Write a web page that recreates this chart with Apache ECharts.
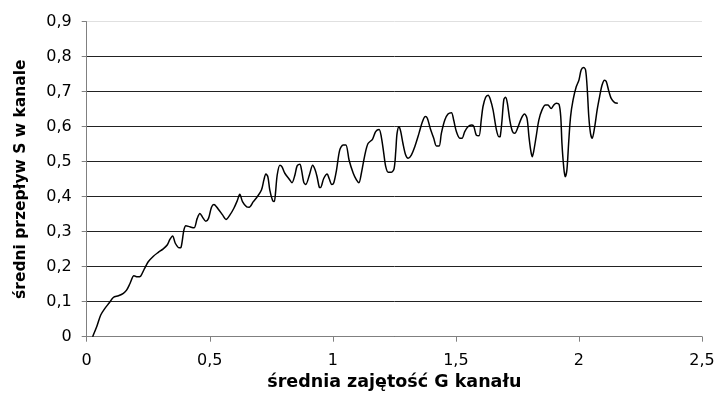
<!DOCTYPE html>
<html>
<head>
<meta charset="utf-8">
<script src="https://cdn.jsdelivr.net/npm/echarts@6/dist/echarts.min.js"></script>
<style>html,body{margin:0;padding:0;background:#fff}#c{width:719px;height:404px}</style>
</head>
<body>
<div id="c"></div>
<script>
var xValues = [0.024,0.041,0.057,0.074,0.092,0.108,0.129,0.149,0.162,0.176,0.192,0.206,0.219,0.233,0.250,0.271,0.291,0.311,0.327,0.338,0.349,0.360,0.376,0.383,0.395,0.403,0.419,0.436,0.449,0.460,0.471,0.484,0.495,0.507,0.517,0.534,0.552,0.566,0.582,0.598,0.612,0.622,0.633,0.650,0.660,0.677,0.693,0.710,0.720,0.728,0.736,0.744,0.755,0.762,0.767,0.774,0.785,0.793,0.805,0.823,0.834,0.846,0.855,0.866,0.873,0.882,0.890,0.906,0.918,0.928,0.936,0.945,0.950,0.963,0.977,0.985,0.996,1.004,1.015,1.028,1.042,1.053,1.066,1.083,1.096,1.106,1.116,1.130,1.143,1.161,1.174,1.188,1.197,1.207,1.215,1.225,1.238,1.249,1.256,1.261,1.269,1.276,1.285,1.296,1.306,1.319,1.333,1.350,1.364,1.376,1.384,1.396,1.410,1.421,1.432,1.441,1.455,1.468,1.482,1.491,1.502,1.516,1.525,1.536,1.549,1.563,1.572,1.583,1.594,1.603,1.610,1.621,1.631,1.640,1.651,1.665,1.675,1.680,1.687,1.695,1.702,1.709,1.719,1.730,1.739,1.752,1.766,1.779,1.789,1.797,1.804,1.810,1.816,1.826,1.837,1.850,1.864,1.874,1.887,1.898,1.908,1.919,1.926,1.931,1.938,1.944,1.951,1.958,1.966,1.976,1.989,2.000,2.009,2.019,2.027,2.034,2.040,2.047,2.054,2.063,2.074,2.084,2.094,2.104,2.111,2.122,2.131,2.145,2.158];
var yValues = [0,0.029,0.062,0.081,0.097,0.112,0.117,0.124,0.133,0.152,0.174,0.171,0.173,0.192,0.214,0.230,0.241,0.251,0.262,0.278,0.288,0.267,0.254,0.255,0.305,0.317,0.314,0.311,0.338,0.352,0.341,0.330,0.338,0.370,0.378,0.365,0.348,0.335,0.348,0.367,0.389,0.407,0.386,0.371,0.370,0.386,0.400,0.419,0.448,0.465,0.457,0.419,0.390,0.386,0.410,0.462,0.490,0.486,0.467,0.450,0.440,0.462,0.488,0.493,0.476,0.441,0.435,0.465,0.490,0.477,0.457,0.427,0.426,0.452,0.465,0.452,0.435,0.440,0.476,0.533,0.548,0.548,0.505,0.467,0.448,0.440,0.467,0.519,0.552,0.564,0.586,0.592,0.571,0.524,0.486,0.470,0.470,0.480,0.533,0.581,0.600,0.586,0.552,0.519,0.510,0.519,0.543,0.581,0.614,0.629,0.624,0.595,0.567,0.545,0.545,0.581,0.619,0.636,0.640,0.619,0.586,0.567,0.567,0.586,0.600,0.605,0.602,0.576,0.574,0.619,0.657,0.684,0.690,0.678,0.648,0.590,0.571,0.572,0.615,0.678,0.684,0.668,0.619,0.586,0.581,0.598,0.624,0.636,0.624,0.571,0.533,0.514,0.529,0.571,0.619,0.648,0.662,0.662,0.652,0.662,0.667,0.664,0.629,0.552,0.486,0.457,0.476,0.552,0.629,0.676,0.714,0.733,0.762,0.769,0.762,0.705,0.629,0.581,0.567,0.595,0.648,0.686,0.719,0.733,0.729,0.700,0.681,0.669,0.667];
var xTicks = [0, 0.5, 1, 1.5, 2, 2.5];
var yTicks = [0, 0.1, 0.2, 0.3, 0.4, 0.5, 0.6, 0.7, 0.8, 0.9];
var xTitle = 'średnia zajętość G kanału';
var yTitle = 'średni przepływ S w kanale';

var pts = xValues.map(function (x, i) { return [x, yValues[i]]; });
function fmt(v) { return String(+v.toFixed(1)).replace('.', ','); }
var font = 'DejaVu Sans, Liberation Sans, Arial, sans-serif';
var chart = echarts.init(document.getElementById('c'), null, { renderer: 'canvas' });
chart.setOption({
  animation: false,
  backgroundColor: '#fff',
  grid: { left: 86.7, right: 17, top: 21.7, bottom: 67.3, containLabel: false },
  xAxis: {
    type: 'value', min: xTicks[0], max: xTicks[xTicks.length - 1], interval: 0.5,
    name: xTitle, nameLocation: 'middle', nameGap: 37,
    nameTextStyle: { fontFamily: font, fontSize: 17.5, fontWeight: 'bold', color: '#000' },
    axisLine: { show: true, lineStyle: { color: '#808080', width: 1 } },
    axisTick: { show: true, length: 5, inside: false, lineStyle: { color: '#808080' } },
    axisLabel: { formatter: fmt, fontFamily: font, fontSize: 16, color: '#000', margin: 16 },
    splitLine: { show: false }
  },
  yAxis: {
    type: 'value', min: yTicks[0], max: yTicks[yTicks.length - 1], interval: 0.1,
    name: yTitle, nameLocation: 'middle', nameGap: 58, nameRotate: 90,
    nameTextStyle: { fontFamily: font, fontSize: 15.5, fontWeight: 'bold', color: '#000' },
    axisLine: { show: true, lineStyle: { color: '#808080', width: 1 } },
    axisTick: { show: true, length: 5, inside: false, lineStyle: { color: '#808080' } },
    axisLabel: { formatter: fmt, fontFamily: font, fontSize: 16, color: '#000', margin: 15 },
    splitLine: { show: true, lineStyle: { color: ['#222','#222','#222','#222','#222','#222','#222','#222','#222','#e0e0e0'], width: 1 } }
  },
  series: [{
    type: 'line', data: pts, showSymbol: false, smooth: 0.3,
    lineStyle: { color: '#000', width: 1.5 }
  }]
});
</script>
</body>
</html>
